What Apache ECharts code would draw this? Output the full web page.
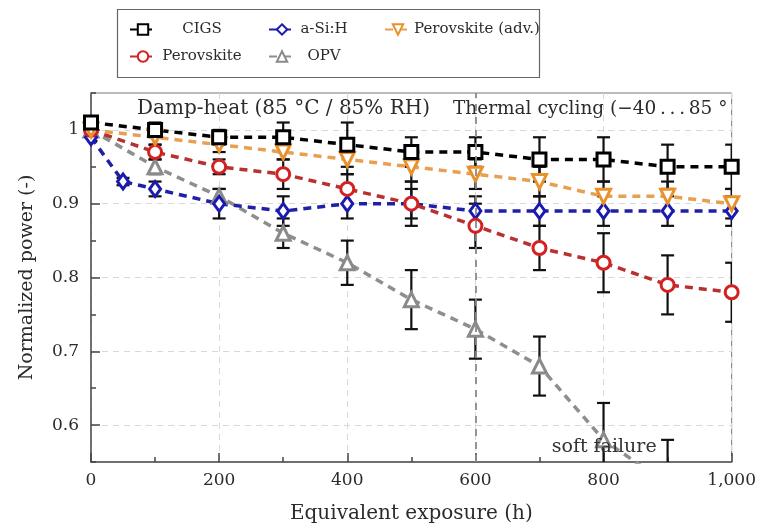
<!DOCTYPE html>
<html>
<head>
<meta charset="utf-8">
<script src="https://cdn.jsdelivr.net/npm/echarts@6/dist/echarts.min.js"></script>
<style>
  html, body { margin: 0; padding: 0; background: #fff; }
  #chart { width: 759px; height: 530px; }
</style>
</head>
<body>
<div id="chart"></div>
<script>
'use strict';

// exposure times (h)
const hours = [0, 100, 200, 300, 400, 500, 600, 700, 800, 900, 1000];
const hoursSi = [0, 50, 100, 200, 300, 400, 500, 600, 700, 800, 900, 1000];

const cigs = [1.01, 1.00, 0.99, 0.99, 0.98, 0.97, 0.97, 0.96, 0.96, 0.95, 0.95];
const cigsErr = [0.005, 0.01, 0.01, 0.02, 0.03, 0.02, 0.02, 0.03, 0.03, 0.03, 0.03];

const perovskite = [1.00, 0.97, 0.95, 0.94, 0.92, 0.90, 0.87, 0.84, 0.82, 0.79, 0.78];
const perovskiteErr = [0.005, 0.01, 0.01, 0.02, 0.02, 0.03, 0.03, 0.03, 0.04, 0.04, 0.04];

const aSi = [0.99, 0.93, 0.92, 0.90, 0.89, 0.90, 0.90, 0.89, 0.89, 0.89, 0.89, 0.89];
const aSiErr = [0.005, 0.005, 0.01, 0.02, 0.02, 0.02, 0.02, 0.02, 0.02, 0.02, 0.02, 0.02];

const opvHours = [0, 100, 200, 300, 400, 500, 600, 700, 800, 900];
const opv = [1.00, 0.95, 0.91, 0.86, 0.82, 0.77, 0.73, 0.68, 0.58, 0.52];
const opvErr = [0.005, 0.01, 0.01, 0.02, 0.03, 0.04, 0.04, 0.04, 0.05, 0.06];

const perovAdv = [1.00, 0.99, 0.98, 0.97, 0.96, 0.95, 0.94, 0.93, 0.91, 0.91, 0.90];
const perovAdvErr = [0.005, 0.01, 0.01, 0.01, 0.02, 0.02, 0.02, 0.02, 0.02, 0.02, 0.02];

const xMajor = [0, 200, 400, 600, 800, 1000];
const yMajor = [0.6, 0.7, 0.8, 0.9, 1.0];

const FONT = '"DejaVu Serif", "Liberation Serif", serif';
const TXT = '#2b2b2b';

var pairs = function(xv, yv) {
    return xv.map(function(x, i) { return [x, yv[i]]; });
};
var errPairs = function(xv, yv, ev) {
    return xv.map(function(x, i) { return [x, yv[i] - ev[i], yv[i] + ev[i]]; });
};

var renderErr = function(params, api) {
    var x = api.value(0);
    var top = api.coord([x, api.value(2)]);
    var bot = api.coord([x, api.value(1)]);
    var w = 6.5;
    var st = { stroke: '#111', lineWidth: 2.2 };
    return {
        type: 'group',
        children: [
            { type: 'line', shape: { x1: top[0], y1: top[1], x2: bot[0], y2: bot[1] }, style: st },
            { type: 'line', shape: { x1: top[0] - w, y1: top[1], x2: top[0] + w, y2: top[1] }, style: st },
            { type: 'line', shape: { x1: bot[0] - w, y1: bot[1], x2: bot[0] + w, y2: bot[1] }, style: st }
        ]
    };
};

var errSeries = function(data) {
    return {
        type: 'custom',
        renderItem: renderErr,
        data: data,
        encode: { x: 0, y: [1, 2] },
        clip: true,
        z: 1,
        silent: true
    };
};

var lineSeries = function(name, data, color, lineColor, symbol, size, rotate) {
    return {
        name: name,
        type: 'line',
        data: data,
        symbol: symbol,
        symbolSize: size,
        symbolRotate: rotate || 0,
        itemStyle: { color: '#fff', borderColor: color, borderWidth: 3 },
        lineStyle: { color: lineColor, width: 3.5, type: [8, 6] },
        z: 3
    };
};

var legendCol = function(left, names, w) {
    return {
        left: left,
        top: 17,
        orient: 'vertical',
        itemWidth: 26,
        itemHeight: 13,
        itemGap: 12,
        data: names,
        formatter: function(n) { return '{t|' + n + '}'; },
        textStyle: {
            rich: { t: { width: w, align: 'center', fontFamily: FONT, fontSize: 15, color: TXT } }
        }
    };
};

var chart = echarts.init(document.getElementById('chart'), null, { renderer: 'canvas' });

var option = {
    backgroundColor: '#fff',
    animation: false,
    grid: { left: 91, right: 26, top: 93, bottom: 68, show: true, borderColor: '#777', borderWidth: 1 },
    legend: [
        legendCol(124, ['CIGS', 'Perovskite'], 82),
        legendCol(263, ['a-Si:H', 'OPV'], 48),
        legendCol(379, ['Perovskite (adv.)'], 122)
    ],
    graphic: [
        { type: 'rect', left: 115, top: 7, shape: { width: 422, height: 68 },
          style: { fill: 'none', stroke: '#666', lineWidth: 1.2 }, z: 0 },
        { type: 'text', left: 137, top: 99,
          style: { text: 'Damp-heat (85 °C / 85% RH)', font: '20px ' + FONT, fill: TXT } },
        { type: 'text', left: 453, top: 100,
          style: { text: 'Thermal cycling (\u221240\u2009.\u2009.\u2009.\u200985 °', font: '18.5px ' + FONT, fill: TXT } }
    ],
    xAxis: [{
        type: 'value', min: 0, max: 1000, interval: 100,
        name: 'Equivalent exposure (h)', nameLocation: 'middle', nameGap: 42,
        nameTextStyle: { fontFamily: FONT, fontSize: 20, color: TXT },
        axisLine: { lineStyle: { color: '#555', width: 1.5 } },
        axisTick: { inside: true, length: 5, lineStyle: { color: '#444', width: 1.5 } },
        axisLabel: {
            fontFamily: FONT, fontSize: 17, color: TXT, margin: 10,
            formatter: function(v) {
                if (v % 200) return '';
                return v === 1000 ? '1,000' : String(v);
            }
        },
        splitLine: {
            show: true,
            lineStyle: { color: ['#d8d8d8', 'transparent'], type: [6, 5], width: 1 }
        }
    }, {
        type: 'value', min: 0, max: 1000, position: 'bottom',
        axisLine: { show: false },
        axisLabel: { show: false },
        splitLine: { show: false },
        axisTick: { inside: true, length: 9, customValues: xMajor, lineStyle: { color: '#444', width: 1.5 } }
    }],
    yAxis: [{
        type: 'value', min: 0.55, max: 1.05, interval: 0.05,
        name: 'Normalized power (-)', nameLocation: 'middle', nameGap: 54,
        nameTextStyle: { fontFamily: FONT, fontSize: 19, color: TXT },
        axisLine: { show: true, lineStyle: { color: '#555', width: 1.5 } },
        axisTick: { show: true, inside: true, length: 5, lineStyle: { color: '#444', width: 1.5 } },
        axisLabel: {
            fontFamily: FONT, fontSize: 17, color: TXT, margin: 12,
            formatter: function(v) {
                var r = Math.round(v * 100);
                if (r % 10) return '';
                return r === 100 ? '1' : (r / 100).toFixed(1);
            }
        },
        splitLine: {
            show: true,
            lineStyle: { color: ['transparent', '#d8d8d8'], type: [6, 5], width: 1 }
        }
    }, {
        type: 'value', min: 0.55, max: 1.05, position: 'left',
        axisLine: { show: false },
        axisLabel: { show: false },
        splitLine: { show: false },
        axisTick: { show: true, inside: true, length: 9, customValues: yMajor, lineStyle: { color: '#444', width: 1.5 } }
    }],
    series: [
        errSeries(errPairs(hours, cigs, cigsErr)),
        errSeries(errPairs(hours, perovskite, perovskiteErr)),
        errSeries(errPairs(hoursSi, aSi, aSiErr)),
        errSeries(errPairs(opvHours, opv, opvErr)),
        errSeries(errPairs(hours, perovAdv, perovAdvErr)),
        lineSeries('OPV', pairs(opvHours, opv), '#8a8a8a', '#8e8e8e', 'triangle', 14),
        lineSeries('a-Si:H', pairs(hoursSi, aSi), '#1a1ab0', '#1f1fa8', 'diamond', [11, 15]),
        lineSeries('Perovskite', pairs(hours, perovskite), '#d42020', '#b83030', 'circle', 13),
        lineSeries('Perovskite (adv.)', pairs(hours, perovAdv), '#e8922c', '#e8a050', 'triangle', 14, 180),
        lineSeries('CIGS', pairs(hours, cigs), '#000', '#000', 'rect', 13),
        {
            type: 'line', data: [], silent: true,
            markLine: {
                symbol: 'none', silent: true, label: { show: false },
                lineStyle: { color: '#8a8a8a', type: [7, 6], width: 1.8 },
                data: [{ xAxis: 600 }]
            },
            markPoint: {
                symbol: 'rect', symbolSize: 0,
                label: { show: true, formatter: 'soft failure', fontFamily: FONT, fontSize: 19, color: '#333' },
                data: [{ coord: [801, 0.57] }]
            },
            z: 0
        }
    ]
};

chart.setOption(option);
</script>
</body>
</html>
